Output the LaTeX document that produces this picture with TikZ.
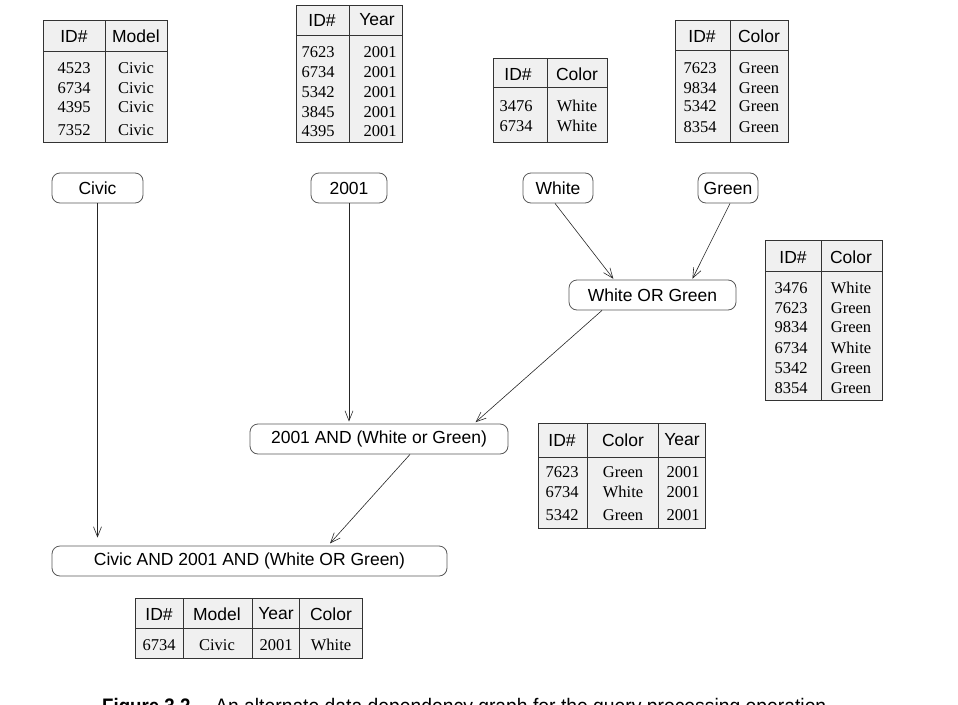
\documentclass[tikz,border=0pt]{standalone}
\usepackage{fontspec}
\setmainfont{Liberation Serif}
\newfontfamily\hfont{Liberation Sans}
\newfontfamily\capfont[FakeStretch=0.92]{Liberation Sans}
\newfontfamily\capbfont[FakeStretch=0.89]{Liberation Sans Bold}
\usetikzlibrary{arrows.meta,calc}
\tikzset{
  tbl/.style={draw=black!80, fill=black!6, line width=0.9pt},
  tline/.style={draw=black!80, line width=0.9pt},
  hdr/.style={font=\hfont\fontsize{17.5}{20}\selectfont, inner sep=0pt, anchor=center},
  cell/.style={font=\fontsize{16.5}{19}\selectfont, inner sep=0pt, anchor=center},
  op/.style={draw=black!65, rounded corners=8pt, fill=white, line width=0.8pt,
     font=\hfont\fontsize{17.5}{20}\selectfont, minimum height=30pt, inner sep=0pt},
  arr/.style={-{Straight Barb[length=10pt,width=8pt]}, line width=0.6pt, draw=black!85}
}
\begin{document}
\begin{tikzpicture}[x=1pt,y=-1pt]
\useasboundingbox (0,0) rectangle (958,704);
\clip (0,0) rectangle (958,704);

% ---------- Table 1: Model ----------
\draw[tbl] (43,20) rectangle (167,142);
\draw[tline] (43,51) -- (167,51) (105,20) -- (105,142);
\node[hdr] (t1h1) at (74,36) {ID\#};
\node[hdr] (t1h2) at (136,36) {Model};
\node[cell] (t1a1) at (74,68) {4523};  \node[cell] (t1b1) at (136,68) {Civic};
\node[cell] (t1a2) at (74,88) {6734};  \node[cell] (t1b2) at (136,88) {Civic};
\node[cell] (t1a3) at (74,107) {4395}; \node[cell] (t1b3) at (136,107) {Civic};
\node[cell] (t1a4) at (74,130) {7352}; \node[cell] (t1b4) at (136,130) {Civic};

% ---------- Table 2: Year ----------
\draw[tbl] (296,5) rectangle (402,142);
\draw[tline] (296,35) -- (402,35) (349,5) -- (349,142);
\node[hdr] (t2h1) at (322,20) {ID\#};
\node[hdr] (t2h2) at (377,20) {Year};
\node[cell] (t2a1) at (318,52) {7623};  \node[cell] (t2b1) at (380,52) {2001};
\node[cell] (t2a2) at (318,72) {6734};  \node[cell] (t2b2) at (380,72) {2001};
\node[cell] (t2a3) at (318,92) {5342};  \node[cell] (t2b3) at (380,92) {2001};
\node[cell] (t2a4) at (318,112) {3845}; \node[cell] (t2b4) at (380,112) {2001};
\node[cell] (t2a5) at (318,131) {4395}; \node[cell] (t2b5) at (380,131) {2001};

% ---------- Table 3: White ----------
\draw[tbl] (493,58) rectangle (607,142);
\draw[tline] (493,87) -- (607,87) (547,58) -- (547,142);
\node[hdr] (t3h1) at (518,74) {ID\#};
\node[hdr] (t3h2) at (577,74) {Color};
\node[cell] (t3a1) at (516,106) {3476}; \node[cell] (t3b1) at (577,106) {White};
\node[cell] (t3a2) at (516,126) {6734}; \node[cell] (t3b2) at (577,126) {White};

% ---------- Table 4: Green ----------
\draw[tbl] (675,20) rectangle (788,142);
\draw[tline] (675,50) -- (788,50) (730,20) -- (730,142);
\node[hdr] (t4h1) at (702,36) {ID\#};
\node[hdr] (t4h2) at (759,36) {Color};
\node[cell] (t4a1) at (700,68) {7623};  \node[cell] (t4b1) at (759,68) {Green};
\node[cell] (t4a2) at (700,88) {9834};  \node[cell] (t4b2) at (759,88) {Green};
\node[cell] (t4a3) at (700,106) {5342}; \node[cell] (t4b3) at (759,106) {Green};
\node[cell] (t4a4) at (700,127) {8354}; \node[cell] (t4b4) at (759,127) {Green};

% ---------- Table 5: White OR Green ----------
\draw[tbl] (765,240) rectangle (882,400);
\draw[tline] (765,271) -- (882,271) (821,240) -- (821,400);
\node[hdr] (t5h1) at (793,257) {ID\#};
\node[hdr] (t5h2) at (851,257) {Color};
\node[cell] (t5a1) at (791,288) {3476}; \node[cell] (t5b1) at (851,288) {White};
\node[cell] (t5a2) at (791,308) {7623}; \node[cell] (t5b2) at (851,308) {Green};
\node[cell] (t5a3) at (791,327) {9834}; \node[cell] (t5b3) at (851,327) {Green};
\node[cell] (t5a4) at (791,348) {6734}; \node[cell] (t5b4) at (851,348) {White};
\node[cell] (t5a5) at (791,368) {5342}; \node[cell] (t5b5) at (851,368) {Green};
\node[cell] (t5a6) at (791,388) {8354}; \node[cell] (t5b6) at (851,388) {Green};

% ---------- Table 6: 2001 AND (White or Green) ----------
\draw[tbl] (538,423) rectangle (705,528);
\draw[tline] (538,457) -- (705,457) (587,423) -- (587,528) (658,423) -- (658,528);
\node[hdr] (t6h1) at (562,440) {ID\#};
\node[hdr] (t6h2) at (623,440) {Color};
\node[hdr] (t6h3) at (682,440) {Year};
\node[cell] (t6a1) at (562,472) {7623}; \node[cell] (t6b1) at (623,472) {Green}; \node[cell] (t6c1) at (683,472) {2001};
\node[cell] (t6a2) at (562,492) {6734}; \node[cell] (t6b2) at (623,492) {White}; \node[cell] (t6c2) at (683,492) {2001};
\node[cell] (t6a3) at (562,515) {5342}; \node[cell] (t6b3) at (623,515) {Green}; \node[cell] (t6c3) at (683,515) {2001};

% ---------- Table 7: final ----------
\draw[tbl] (135,598) rectangle (362,658);
\draw[tline] (135,628) -- (362,628) (183,598) -- (183,658) (252,598) -- (252,658) (299,598) -- (299,658);
\node[hdr] (t7h1) at (159,614) {ID\#};
\node[hdr] (t7h2) at (217,614) {Model};
\node[hdr] (t7h3) at (276,614) {Year};
\node[hdr] (t7h4) at (331,614) {Color};
\node[cell] (t7a) at (159,645) {6734};
\node[cell] (t7b) at (217,645) {Civic};
\node[cell] (t7c) at (276,645) {2001};
\node[cell] (t7d) at (331,645) {White};

% ---------- operation nodes ----------
\node[op, minimum width=91pt]  (civic) at (97.5,188) {Civic};
\node[op, minimum width=76pt]  (y2001) at (349,188) {2001};
\node[op, minimum width=70pt]  (white) at (558,188) {White};
\node[op, minimum width=60pt]  (green) at (728,188) {Green};
\node[op, minimum width=167pt] (wog)   at (652.5,295) {White OR Green};
\node[op, minimum width=258pt] (and1)  at (379,439) {2001 AND (White or Green)};
\node[op, minimum width=395pt] (final) at (249.5,561) {Civic AND 2001 AND (White OR Green)};

% ---------- connectors ----------
\coordinate (whiteout) at ($(white.south)+(-3,0)$);
\coordinate (wogin1)   at ($(wog.north)+(-38.5,0)$);
\coordinate (greenout) at ($(green.south)+(2,0)$);
\coordinate (wogin2)   at ($(wog.north)+(39.5,0)$);
\coordinate (wogout)   at ($(wog.south)+(-50.5,0)$);
\coordinate (and1in)   at ($(and1.north)+(95,0)$);
\coordinate (and1out)  at ($(and1.south)+(31,0)$);
\coordinate (finalin)  at ($(final.north)+(78.5,0)$);

\draw[arr, shorten >=8pt] (civic.south) -- (civic.south |- final.north);
\draw[arr, shorten >=2pt] (y2001.south) -- (y2001.south |- and1.north);
\draw[arr, shorten >=1pt] (whiteout) -- (wogin1);
\draw[arr, shorten >=1pt] (greenout) -- (wogin2);
\draw[arr, shorten >=2pt] (wogout) -- (and1in);
\draw[arr, shorten >=3pt] (and1out) -- (finalin);

% ---------- caption (cut off at the bottom edge) ----------
\node[anchor=base west, inner sep=0pt, font=\capbfont\fontsize{21}{24}\selectfont] (figlab) at (102,713) {Figure 3.2};
\node[anchor=base west, inner sep=0pt, font=\capfont\fontsize{21}{24}\selectfont] (figcap) at (215,713) {An alternate data dependency graph for the query processing operation.};
\end{tikzpicture}
\end{document}
